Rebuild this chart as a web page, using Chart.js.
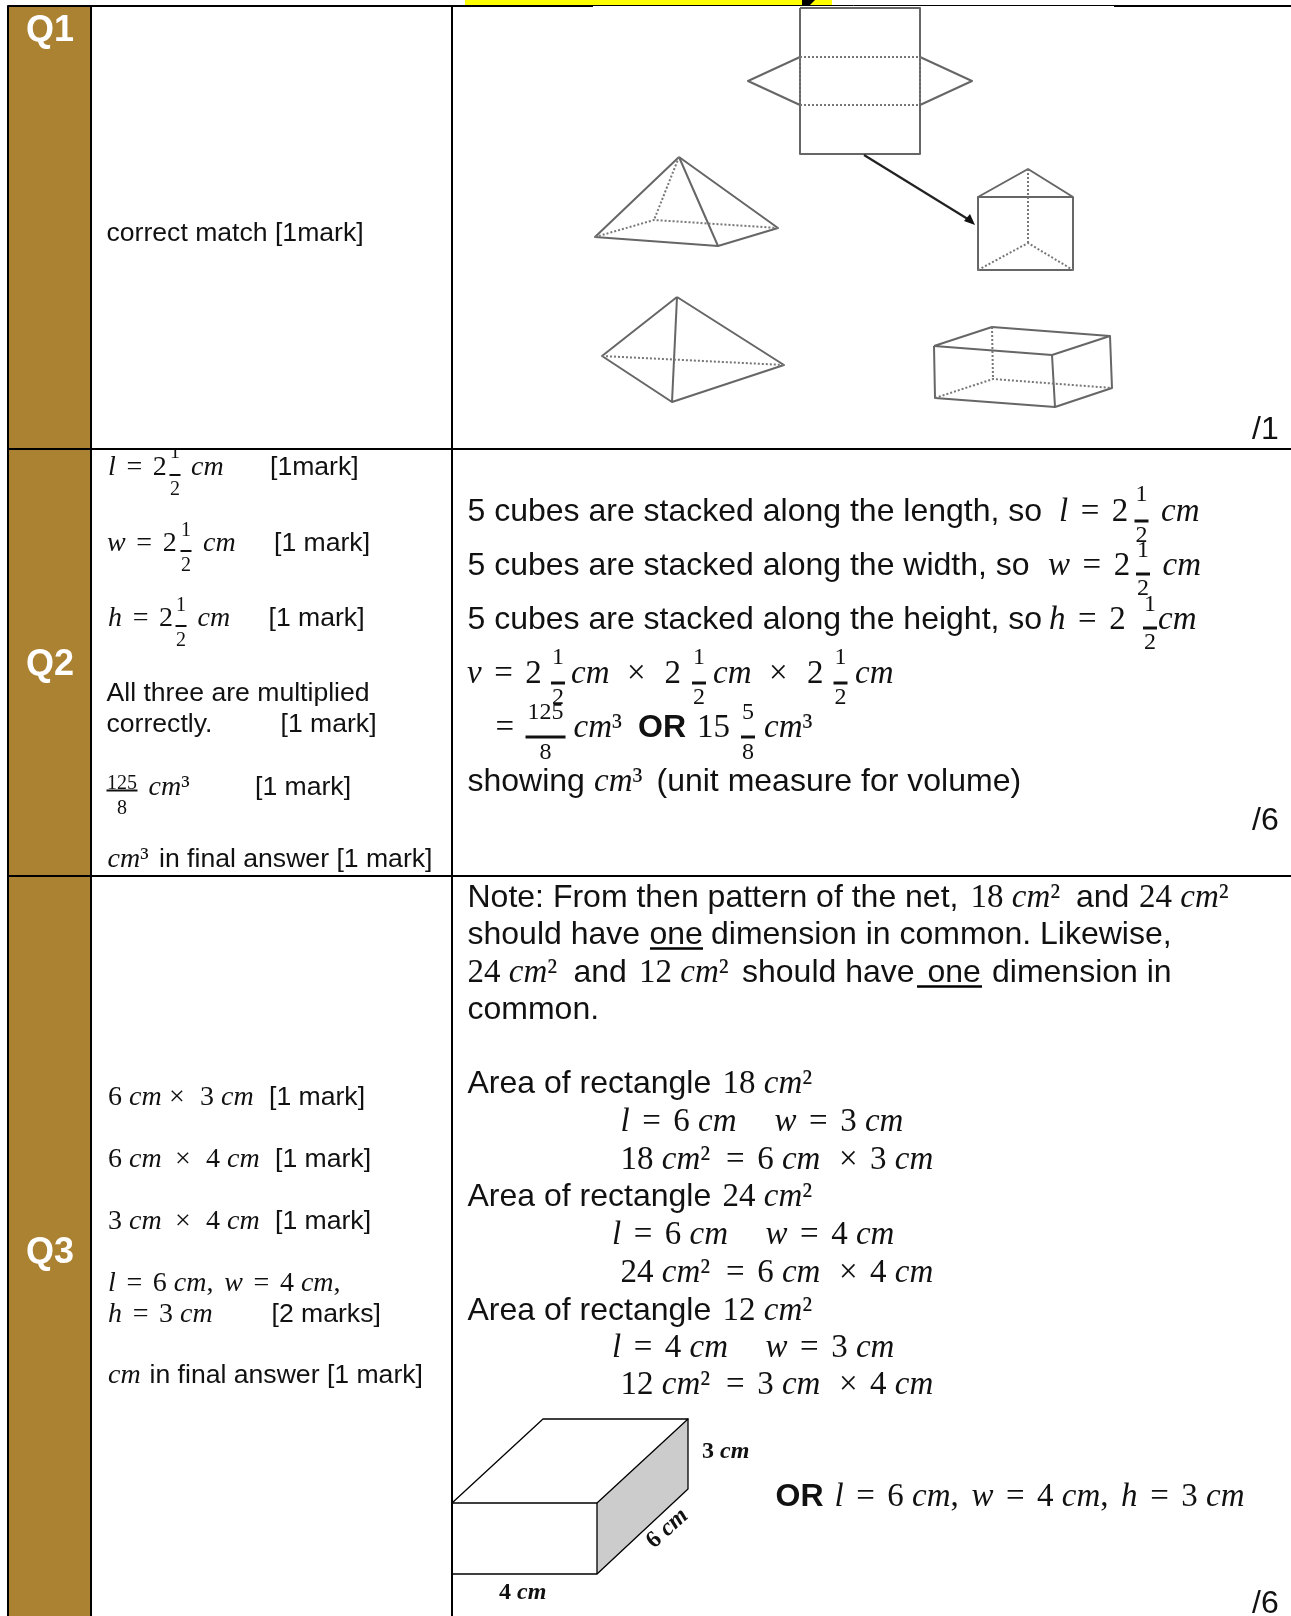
<!DOCTYPE html>
<html>
<head>
<meta charset="utf-8">
<title>Q1-Q3</title>
<script src="https://cdn.jsdelivr.net/npm/chart.js@4"></script>
<style>
body { margin: 0; background: #fff; }
canvas { display: block; }
</style>
</head>
<body>
<canvas id="grafico" width="1291" height="1616"></canvas>
<script>
// table frame
const goldColumn = [[8, 6], [90, 6], [90, 1616], [8, 1616]];
const yellowBanner = [[465, 0], [832, 0], [832, 5], [465, 5]];
const topGlyph = [[802, 0], [815, 0], [810, 5], [802, 5]];
const tableRules = [
    [[8, 6], [8, 1616]],
    [[91, 6], [91, 1616]],
    [[452, 6], [452, 1616]],
    [[8, 449], [1291, 449]],
    [[8, 876], [1291, 876]],
    [[8, 6], [593, 6]],
    [[1114, 6], [1291, 6]]
];
const thinRule = [[593, 5.5], [1114, 5.5]];

// Q1 net and solids
const netSolid = [
    [[800, 8], [920, 8], [920, 154], [800, 154], [800, 8]],
    [[800, 57], [748, 81], [800, 105]],
    [[920, 57], [972, 81], [920, 105]]
];
const netDashed = [
    [[800, 57], [920, 57]],
    [[800, 105], [920, 105]],
    [[800, 57], [800, 105]],
    [[920, 57], [920, 105]]
];
const arrowLine = [[864, 155], [971, 221]];
const arrowHead = [[975, 225], [964, 221], [970, 214]];
const pyramidOneSolid = [
    [[679, 157], [595, 237], [718, 246], [778, 228], [679, 157]],
    [[679, 157], [718, 246]]
];
const pyramidOneDashed = [[[679, 157], [654, 220]], [[595, 237], [654, 220], [778, 228]]];
const prismSolid = [
    [[978, 197], [1028, 169], [1073, 197], [978, 197]],
    [[978, 197], [978, 270], [1073, 270], [1073, 197]]
];
const prismDashed = [[[1028, 169], [1028, 243]], [[978, 270], [1028, 243], [1073, 270]]];
const pyramidTwoSolid = [
    [[677, 297], [602, 356], [672, 402], [784, 365], [677, 297]],
    [[677, 297], [672, 402]]
];
const pyramidTwoDashed = [[[602, 356], [784, 365]]];
const boxSolid = [
    [[934, 346], [992, 327], [1110, 336], [1052, 355], [934, 346]],
    [[934, 346], [935, 398], [1055, 407], [1052, 355]],
    [[1110, 336], [1112, 388], [1055, 407]]
];
const boxDashed = [[[992, 327], [993, 379]], [[935, 398], [993, 379], [1112, 388]]];

// Q3 cuboid
const cuboidSide = [[597, 1503], [688, 1419], [688, 1489], [597, 1574]];
const cuboidLines = [
    [[452, 1503], [597, 1503], [597, 1574], [452, 1574]],
    [[452, 1503], [543, 1419], [688, 1419], [597, 1503]],
    [[688, 1419], [688, 1489], [597, 1574]]
];

// fractions: centre x, numerator baseline, bar y, denominator baseline, half bar, numerator, denominator, size
const fractions = [
    [175, 458, 475, 495, 5.5, "1", "2", 20],
    [186, 536, 551, 571, 5.5, "1", "2", 20],
    [181, 611, 626, 646, 5.5, "1", "2", 20],
    [122, 789, 790.5, 814, 15.5, "125", "8", 20],
    [1141.5, 501, 521, 542, 7, "1", "2", 24],
    [1143, 557, 574, 595, 7, "1", "2", 24],
    [1150, 611, 628, 649, 7, "1", "2", 24],
    [558, 664, 683, 704, 7, "1", "2", 24],
    [699, 664, 683, 704, 7, "1", "2", 24],
    [840.5, 664, 683, 704, 7, "1", "2", 24],
    [545.5, 719, 737, 759, 20, "125", "8", 24],
    [748, 719, 737, 759, 7, "5", "8", 24]
];
const underlines = [[[650, 948.5], [703, 948.5]], [[917, 986.5], [982, 986.5]]];

// labels: x, baseline, style, text
const labels = [
    [26, 41, "q", "Q1"], [26, 675, "q", "Q2"], [26, 1263, "q", "Q3"],
    [106.5, 241, "s", "correct match [1mark]"],
    [108, 475, "m", "l = 2"], [191, 475, "m", "cm"], [270, 475, "s", "[1mark]"],
    [107, 551, "m", "w = 2"], [203, 551, "m", "cm"], [274, 551, "s", "[1 mark]"],
    [108, 626, "m", "h = 2"], [197.5, 626, "m", "cm"], [268.5, 626, "s", "[1 mark]"],
    [106.5, 701, "s", "All three are multiplied"],
    [106.5, 732, "s", "correctly."], [280.5, 732, "s", "[1 mark]"],
    [148.5, 795, "m", "cm³"], [255, 795, "s", "[1 mark]"],
    [107.5, 867, "m", "cm³"], [159, 867, "s", "in final answer [1 mark]"],
    [108, 1105, "m", "6 cm"], [169, 1105, "m", "×"], [200, 1105, "m", "3 cm"], [269, 1105, "s", "[1 mark]"],
    [108, 1167, "m", "6 cm"], [175, 1167, "m", "×"], [206, 1167, "m", "4 cm"], [275, 1167, "s", "[1 mark]"],
    [108, 1229, "m", "3 cm"], [175, 1229, "m", "×"], [206, 1229, "m", "4 cm"], [275, 1229, "s", "[1 mark]"],
    [108, 1291, "m", "l = 6 cm, w = 4 cm,"],
    [108, 1322, "m", "h = 3 cm"], [271.5, 1322, "s", "[2 marks]"],
    [108, 1383, "m", "cm"], [149.5, 1383, "s", "in final answer [1 mark]"],

    [1252, 439, "r", "/1"], [1252, 830, "r", "/6"], [1252, 1613, "r", "/6"],

    [467.5, 521, "r", "5 cubes are stacked along the length, so"],
    [1059, 521, "n", "l = 2"], [1161, 521, "n", "cm"],
    [467.5, 575, "r", "5 cubes are stacked along the width, so"],
    [1048, 575, "n", "w = 2"], [1162.5, 575, "n", "cm"],
    [467.5, 629, "r", "5 cubes are stacked along the height, so"],
    [1049, 629, "n", "h = 2"], [1158, 629, "n", "cm"],
    [467, 683, "n", "v = 2"], [571, 683, "n", "cm"], [627, 683, "n", "×"],
    [664.5, 683, "n", "2"], [713, 683, "n", "cm"], [769, 683, "n", "×"],
    [807, 683, "n", "2"], [855, 683, "n", "cm"],
    [495.5, 737, "n", "="], [573.5, 737, "n", "cm³"], [638, 737, "o", "OR"],
    [697, 737, "n", "15"], [764, 737, "n", "cm³"],
    [467.5, 791, "r", "showing"], [594, 791, "n", "cm³"], [656.5, 791, "r", "(unit measure for volume)"],

    [467.5, 907, "r", "Note: From then pattern of the net,"], [970.5, 907, "n", "18 cm²"],
    [1076, 907, "r", "and"], [1139, 907, "n", "24 cm²"],
    [467.5, 944, "r", "should have"], [649.5, 944, "r", "one"], [711, 944, "r", "dimension in common. Likewise,"],
    [467.5, 982, "n", "24 cm²"], [573.5, 982, "r", "and"], [639, 982, "n", "12 cm²"],
    [742, 982, "r", "should have"], [927.5, 982, "r", "one"], [992, 982, "r", "dimension in"],
    [467.5, 1019, "r", "common."],
    [467.5, 1093, "r", "Area of rectangle"], [722.5, 1093, "n", "18 cm²"],
    [620.5, 1131, "n", "l = 6 cm"], [774.5, 1131, "n", "w = 3 cm"],
    [620.5, 1169, "n", "18 cm²"], [726, 1169, "n", "= 6 cm"], [839, 1169, "n", "×"], [870, 1169, "n", "3 cm"],
    [467.5, 1206, "r", "Area of rectangle"], [722.5, 1206, "n", "24 cm²"],
    [612, 1244, "n", "l = 6 cm"], [765.5, 1244, "n", "w = 4 cm"],
    [620.5, 1282, "n", "24 cm²"], [726, 1282, "n", "= 6 cm"], [839, 1282, "n", "×"], [870, 1282, "n", "4 cm"],
    [467.5, 1320, "r", "Area of rectangle"], [722.5, 1320, "n", "12 cm²"],
    [612, 1357, "n", "l = 4 cm"], [765.5, 1357, "n", "w = 3 cm"],
    [620.5, 1394, "n", "12 cm²"], [726, 1394, "n", "= 3 cm"], [839, 1394, "n", "×"], [870, 1394, "n", "4 cm"],

    [702, 1458, "k", "3 cm"], [499, 1599, "k", "4 cm"],
    [775.5, 1506, "o", "OR"], [834.5, 1506, "n", "l = 6 cm, w = 4 cm, h = 3 cm"]
];

const styles = {
    q: { sans: true, weight: "bold", size: 36, color: "#fff" },
    s: { sans: true, weight: "normal", size: 26.6, color: "#111" },
    r: { sans: true, weight: "normal", size: 32, color: "#111" },
    o: { sans: true, weight: "bold", size: 32, color: "#111" },
    m: { sans: false, weight: "normal", size: 28, color: "#111" },
    n: { sans: false, weight: "normal", size: 33, color: "#111" },
    k: { sans: false, weight: "bold", size: 24, color: "#111" }
};

let datasets = [];

function agregar(puntos, opciones) {
    datasets.push(Object.assign({
        data: puntos.map(function (p) { return { x: p[0], y: p[1] }; }),
        showLine: true,
        pointRadius: 0,
        borderColor: "#000",
        borderWidth: 2,
        borderJoinStyle: "round",
        fill: false,
        tension: 0,
        order: -datasets.length
    }, opciones));
}

function relleno(puntos, color) {
    agregar(puntos.concat([puntos[0]]), { backgroundColor: color, borderColor: color, borderWidth: 0, fill: "shape" });
}

relleno(goldColumn, "#ab8232");
relleno(yellowBanner, "#ffff00");
relleno(topGlyph, "#000");
relleno(cuboidSide, "#cccccc");

tableRules.forEach(function (l) { agregar(l, {}); });
agregar(thinRule, { borderWidth: 1 });

const gris = "#666";
[netSolid, pyramidOneSolid, prismSolid, pyramidTwoSolid, boxSolid].forEach(function (grupo) {
    grupo.forEach(function (l) { agregar(l, { borderColor: gris, borderWidth: 2 }); });
});
[netDashed, pyramidOneDashed, prismDashed, pyramidTwoDashed, boxDashed].forEach(function (grupo) {
    grupo.forEach(function (l) { agregar(l, { borderColor: "#777", borderWidth: 2, borderDash: [2, 2] }); });
});
agregar(arrowLine, { borderColor: "#222", borderWidth: 2.2 });
relleno(arrowHead, "#111");
cuboidLines.forEach(function (l) { agregar(l, { borderWidth: 1.3 }); });
underlines.forEach(function (l) { agregar(l, { borderWidth: 2.5 }); });
fractions.forEach(function (f) {
    agregar([[f[0] - f[4], f[2]], [f[0] + f[4], f[2]]], { borderColor: "#111", borderWidth: f[7] > 20 ? 3 : 2 });
});

function fuente(est, cursiva) {
    let familia = est.sans ? '"Liberation Sans"' : '"Liberation Serif"';
    return (cursiva ? "italic " : "") + est.weight + " " + est.size + "px " + familia;
}

function escribir(ctx, x, y, estilo, texto) {
    let est = styles[estilo];
    ctx.fillStyle = est.color;
    if (est.sans) {
        ctx.font = fuente(est, false);
        ctx.fillText(texto, x, y);
        return;
    }
    // math runs: letters italic, the rest upright, more room around = and after commas
    let trozos = texto.split(/([A-Za-z]+|\s+)/).filter(function (t) { return t; });
    trozos.forEach(function (trozo, i) {
        ctx.font = fuente(est, /[A-Za-z]/.test(trozo));
        if (trozo.trim() === "") {
            let antes = trozos[i - 1] || "", despues = trozos[i + 1] || "";
            let ancho = /[=,]$/.test(antes) || /^=/.test(despues);
            x += ctx.measureText(trozo).width + (ancho ? est.size * 0.13 : 0);
            return;
        }
        ctx.fillText(trozo, x, y);
        x += ctx.measureText(trozo).width;
    });
}

const textos = {
    id: "textos",
    afterDatasetsDraw: function (chart) {
        let ctx = chart.ctx;
        let sx = chart.scales.x, sy = chart.scales.y;
        ctx.save();
        ctx.textBaseline = "alphabetic";
        labels.forEach(function (t) {
            escribir(ctx, sx.getPixelForValue(t[0]), sy.getPixelForValue(t[1]), t[2], t[3]);
        });
        ctx.textAlign = "center";
        ctx.fillStyle = "#111";
        fractions.forEach(function (f, i) {
            ctx.font = f[7] + 'px "Liberation Serif"';
            ctx.save();
            if (i === 0) {
                // the first numerator is cut by the row rule
                ctx.beginPath();
                ctx.rect(92, 450, 359, 426);
                ctx.clip();
            }
            ctx.fillText(f[5], sx.getPixelForValue(f[0]), sy.getPixelForValue(f[1]));
            ctx.restore();
            ctx.fillText(f[6], sx.getPixelForValue(f[0]), sy.getPixelForValue(f[3]));
        });
        ctx.textAlign = "left";
        ctx.translate(sx.getPixelForValue(654), sy.getPixelForValue(1549));
        ctx.rotate(-42 * Math.PI / 180);
        escribir(ctx, 0, 0, "k", "6 cm");
        ctx.restore();
    }
};

new Chart(document.getElementById("grafico"), {
    type: "scatter",
    data: { datasets: datasets },
    options: {
        responsive: false,
        animation: false,
        layout: { padding: 0 },
        plugins: { legend: { display: false }, tooltip: { enabled: false } },
        scales: {
            x: { type: "linear", min: 0, max: 1291, display: false },
            y: { type: "linear", min: 0, max: 1616, reverse: true, display: false }
        }
    },
    plugins: [textos]
});
</script>
</body>
</html>
